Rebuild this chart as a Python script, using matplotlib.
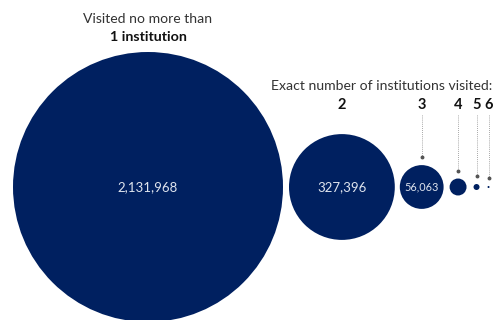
"""Bubble row: how many institutions each person visited."""
import matplotlib
matplotlib.use("Agg")
import matplotlib.pyplot as plt
from matplotlib.patches import Circle
import numpy as np

# --- data ---
groups = ["1", "2", "3", "4", "5", "6"]
visitors = [2131968, 327396, 56063, 8400, 1050, 120]
value_labels = ["2,131,968", "327,396", "56,063", "", "", ""]

NAVY = "#002060"
TEXT = "#333333"
R_MAX = 135.0      # px radius of the largest bubble
CY = 187.0         # shared centre line
X0 = 148.0         # centre of the first bubble
GAPS = [6, 5, 6, 7, 8]

plt.rcParams["font.family"] = ["Lato", "DejaVu Sans"]

fig = plt.figure(figsize=(5.01, 3.2), dpi=100)
ax = fig.add_axes([0, 0, 1, 1])
ax.set_xlim(0, 501)
ax.set_ylim(320, 0)
ax.axis("off")

vals = np.array(visitors, dtype=float)
radii = R_MAX * np.sqrt(vals / vals.max())
centres = [X0]
for i in range(1, len(radii)):
    centres.append(centres[-1] + radii[i - 1] + GAPS[i - 1] + radii[i])

for x, r, lab in zip(centres, radii, value_labels):
    ax.add_patch(Circle((x, CY), r, color=NAVY, lw=0))
    if lab:
        fs = 9.5 if r > 40 else 7.8
        ax.text(x, CY, lab, color="#dfe4ee", fontsize=fs, ha="center", va="center")

# title over the big bubble
ax.text(centres[0], 19, "Visited no more than", fontsize=10.1, color=TEXT,
        ha="center", va="center")
ax.text(centres[0], 37, "1 institution", fontsize=10.3, color="#111111",
        fontweight="bold", ha="center", va="center")

# header for the rest
ax.text(382, 86, "Exact number of institutions visited:", fontsize=10.1,
        color=TEXT, ha="center", va="center")

LABEL_Y = 105
for i, (g, x, r) in enumerate(zip(groups, centres, radii)):
    if i == 0:
        continue
    ax.text(x, LABEL_Y, g, fontsize=10.5, fontweight="bold", color="#111111",
            ha="center", va="center")
    if i >= 2:
        end = CY - r - 8
        ax.plot([x, x], [115, end], color="#8a8a8a", lw=0.6, ls=(0, (1, 1.5)))
        ax.plot(x, end, "o", ms=1.8, color="#555555")

fig.savefig("out.png", dpi=100)
